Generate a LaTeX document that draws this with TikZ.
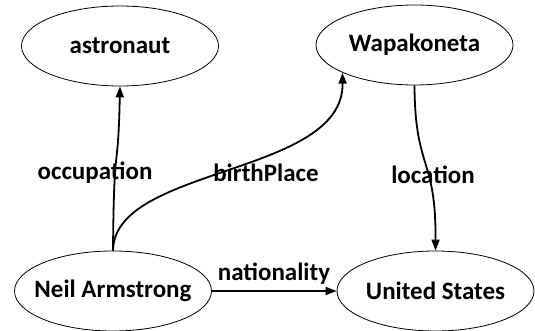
\documentclass[tikz,border=0pt]{standalone}
\usepackage{fontspec}
\setmainfont{Carlito}
\usetikzlibrary{shapes.geometric,arrows.meta}
\tikzset{
  ent/.style={ellipse, draw, line width=0.8pt, minimum width=197pt, minimum height=80pt, inner xsep=-35pt, inner ysep=0pt, font=\fontsize{25}{29}\selectfont\bfseries},
  rel/.style={line width=1.8pt, -{Triangle[length=11pt,width=8pt]}},
  lbl/.style={font=\fontsize{25}{29}\selectfont\bfseries, inner sep=0pt}
}
\begin{document}
\begin{tikzpicture}[x=1pt,y=1pt]
\useasboundingbox (0,0) rectangle (535,331);
\node[ent] (a) at (120,285) {astronaut};
\node[ent] (w) at (414.5,286) {Wapakoneta};
\node[ent] (n) at (113,40) {Neil Armstrong};
\node[ent] (u) at (435.5,40) {United States};
\draw[rel] (n.north) .. controls (114,200) and (118,150) .. (a.south);
\draw[rel] (n.north) .. controls (114,165) and (344,155) .. (w.201.7);
\draw[rel] (w.south) .. controls (415,160) and (436,175) .. (u.north);
\draw[rel] (n.east) -- (u.west);
\node[lbl] (l1) at (95,158) {occupation};
\node[lbl] (l2) at (266,158) {birthPlace};
\node[lbl] (l3) at (433,156) {location};
\node[lbl] (l4) at (274,57) {nationality};
\end{tikzpicture}
\end{document}
